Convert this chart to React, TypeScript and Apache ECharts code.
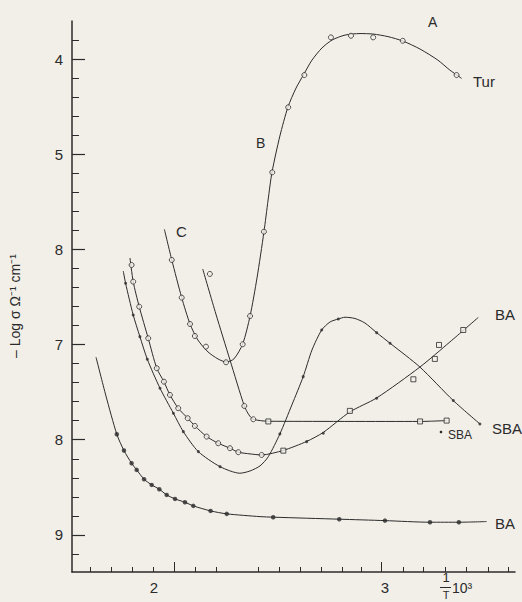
import React, { useEffect, useRef } from "react";
import * as echarts from "echarts";

// ---- axis ticks & labels ----
const yMajor = [4, 5, 6, 7, 8, 9];
const yTickLabels = ["4", "5", "8", "7", "8", "9"];
const yMinor = [3.8, 4.2, 4.4, 4.6, 4.8, 5.2, 5.4, 5.6, 5.8, 6.2, 6.4, 6.6, 6.8, 7.2, 7.4, 7.6, 7.8, 8.2, 8.4, 8.6, 8.8, 9.2];
const xLabelValues = [2, 3];
const xMinor = [1.726, 1.817, 1.908, 1.997, 2.177, 2.271, 2.45, 2.541, 2.632, 2.723, 2.813, 2.899, 3.078, 3.165, 3.26, 3.354, 3.446, 3.532];
const xMajorTicks = [2.087, 2.986];

// ---- Tur curve (C -> B -> A) ----
const turLine = [[2.045,5.789],[2.077,6.111],[2.120,6.507],[2.156,6.784],[2.190,6.952],[2.234,7.078],[2.277,7.151],[2.312,7.183],[2.346,7.151],[2.384,6.994],[2.416,6.700],[2.446,6.300],[2.476,5.817],[2.494,5.481],[2.511,5.187],[2.545,4.809],[2.580,4.504],[2.615,4.305],[2.649,4.158],[2.684,4.011],[2.727,3.884],[2.771,3.800],[2.827,3.748],[2.892,3.732],[2.948,3.737],[3.013,3.764],[3.078,3.811],[3.152,3.895],[3.229,4.011],[3.281,4.116],[3.332,4.203]];
const turPts = [[2.077,6.111],[2.120,6.507],[2.156,6.784],[2.177,6.910],[2.225,7.022],[2.312,7.186],[2.384,6.997],[2.416,6.700],[2.476,5.814],[2.512,5.190],[2.581,4.507],[2.651,4.168],[2.766,3.772],[2.853,3.755],[2.949,3.772],[3.077,3.808],[3.310,4.168]];

// ---- BA (upper) curve ----
const baUpLine = [[1.896,6.090],[1.910,6.339],[1.936,6.602],[1.975,6.934],[2.012,7.249],[2.043,7.390],[2.069,7.529],[2.105,7.669],[2.146,7.774],[2.177,7.855],[2.228,7.967],[2.278,8.037],[2.329,8.089],[2.365,8.131],[2.416,8.149],[2.466,8.160],[2.560,8.112],[2.661,8.018],[2.733,7.923],[2.848,7.708],[2.964,7.561],[3.152,7.235],[3.281,6.973],[3.404,6.715]];
const baUpCircles = [[1.903,6.164],[1.910,6.339],[1.936,6.602],[1.975,6.934],[2.012,7.249],[2.043,7.390],[2.069,7.529],[2.105,7.669],[2.146,7.774],[2.177,7.855],[2.228,7.967],[2.278,8.037],[2.329,8.089],[2.365,8.131],[2.466,8.160]];
const baUpSquares = [[2.560,8.115],[2.848,7.697],[3.123,7.365],[3.216,7.151],[3.234,7.004],[3.339,6.847]];
const baUpDots = [[2.661,8.020],[2.733,7.932],[2.964,7.564]];

// ---- SBA (peaked) curve ----
const sbaPeakLine = [[1.867,6.227],[1.877,6.356],[1.910,6.689],[1.939,6.917],[1.971,7.154],[2.026,7.459],[2.084,7.722],[2.127,7.915],[2.192,8.125],[2.286,8.283],[2.372,8.352],[2.416,8.328],[2.459,8.275],[2.495,8.178],[2.545,7.939],[2.597,7.634],[2.646,7.337],[2.684,7.057],[2.726,6.847],[2.762,6.763],[2.798,6.731],[2.827,6.713],[2.870,6.726],[2.913,6.773],[2.964,6.875],[3.022,6.986],[3.152,7.238],[3.296,7.589],[3.411,7.834]];
const sbaPeakPts = [[1.877,6.356],[1.910,6.689],[1.939,6.917],[1.971,7.154],[2.026,7.459],[2.084,7.722],[2.127,7.915],[2.192,8.125],[2.286,8.283],[2.545,7.939],[2.646,7.337],[2.726,6.847],[2.798,6.731],[2.964,6.875],[3.022,6.986],[3.296,7.589],[3.411,7.834]];

// ---- SBA (flat) curve ----
const sbaFlatLine = [[2.211,6.206],[2.268,6.679],[2.329,7.162],[2.391,7.645],[2.411,7.739],[2.430,7.785],[2.495,7.806],[3.152,7.808],[3.267,7.799]];
const sbaFlatCircles = [[2.242,6.258],[2.391,7.645],[2.430,7.785]];
const sbaFlatSquares = [[2.495,7.808],[3.152,7.808],[3.267,7.799]];

// ---- BA (lower) curve ----
const baLowLine = [[1.749,7.133],[1.792,7.540],[1.839,7.942],[1.870,8.114],[1.903,8.247],[1.925,8.317],[1.957,8.415],[1.990,8.475],[2.023,8.520],[2.055,8.580],[2.091,8.622],[2.134,8.657],[2.170,8.695],[2.245,8.748],[2.315,8.779],[2.459,8.808],[2.516,8.814],[2.802,8.835],[3.000,8.850],[3.195,8.867],[3.320,8.867],[3.440,8.860]];
const baLowPts = [[1.839,7.942],[1.870,8.114],[1.903,8.247],[1.925,8.317],[1.957,8.415],[1.990,8.475],[2.023,8.520],[2.055,8.580],[2.091,8.622],[2.134,8.657],[2.170,8.695],[2.245,8.748],[2.315,8.779],[2.516,8.814],[2.802,8.835],[3.000,8.850],[3.195,8.867],[3.320,8.867]];

const BG = "#f2efe9";
const INK = "#2b2b2b";
const FONT = "'Liberation Sans', Arial, sans-serif";

function lineSeries(data: number[][]) {
  return {
    type: "line",
    data,
    smooth: 0.25,
    showSymbol: false,
    symbol: "none",
    lineStyle: { color: INK, width: 1 },
    xAxisIndex: 0,
    yAxisIndex: 0,
    z: 2,
    silent: true,
  };
}

function scatterSeries(data: number[][], symbol: string, size: number, filled: boolean) {
  return {
    type: "scatter",
    data,
    symbol,
    symbolSize: size,
    itemStyle: filled
      ? { color: INK }
      : { color: BG, borderColor: INK, borderWidth: 1 },
    xAxisIndex: 0,
    yAxisIndex: 0,
    z: 3,
    silent: true,
  };
}

function label(text: string, x: number, y: number, size: number) {
  return {
    type: "text",
    x,
    y,
    style: { text, fill: INK, font: `${size}px ${FONT}`, align: "left", verticalAlign: "middle" },
  };
}

export default function App() {
  const ref = useRef<HTMLDivElement>(null);
  useEffect(() => {
    if (!ref.current) return;
    const chart = echarts.init(ref.current, null, { renderer: "svg" });
    const option: any = {
      animation: false,
      backgroundColor: BG,
      grid: { left: 72, right: 7, top: 21, bottom: 30, containLabel: false, outerBoundsMode: "none" },
      xAxis: [
        {
          type: "value",
          min: 1.645,
          max: 3.563,
          axisLine: { show: true, lineStyle: { color: INK, width: 1.5 } },
          axisTick: { show: true, inside: true, length: 5, customValues: xMinor, lineStyle: { color: INK, width: 1 } },
          axisLabel: { show: true, customValues: xLabelValues, formatter: (v: number) => String(v), color: INK, fontSize: 15, fontFamily: FONT, margin: 8 },
          splitLine: { show: false },
        },
        {
          type: "value",
          min: 1.645,
          max: 3.563,
          position: "bottom",
          axisLine: { show: false },
          axisTick: { show: true, inside: true, length: 10, customValues: xMajorTicks, lineStyle: { color: INK, width: 1 } },
          axisLabel: { show: false },
          splitLine: { show: false },
        },
      ],
      yAxis: [
        {
          type: "value",
          inverse: true,
          min: 3.6,
          max: 9.39,
          position: "left",
          axisLine: { show: true, lineStyle: { color: INK, width: 1.5 } },
          axisTick: { show: true, inside: true, length: 13, customValues: yMajor, lineStyle: { color: INK, width: 1.2 } },
          axisLabel: {
            show: true,
            customValues: yMajor,
            formatter: (v: number) => {
              const i = yMajor.indexOf(Math.round(v));
              return i >= 0 ? yTickLabels[i] : "";
            },
            color: INK,
            fontSize: 15,
            fontFamily: FONT,
            margin: 9,
          },
          splitLine: { show: false },
        },
        {
          type: "value",
          inverse: true,
          min: 3.6,
          max: 9.39,
          position: "left",
          axisLine: { show: false },
          axisTick: { show: true, inside: true, length: 7, customValues: yMinor, lineStyle: { color: INK, width: 1 } },
          axisLabel: { show: false },
          splitLine: { show: false },
        },
      ],
      series: [
        lineSeries(turLine),
        scatterSeries(turPts, "circle", 5, false),
        lineSeries(baUpLine),
        scatterSeries(baUpCircles, "circle", 5, false),
        scatterSeries(baUpSquares, "rect", 5, false),
        scatterSeries(baUpDots, "circle", 3, true),
        lineSeries(sbaPeakLine),
        scatterSeries(sbaPeakPts, "circle", 3, true),
        lineSeries(sbaFlatLine),
        scatterSeries(sbaFlatCircles, "circle", 5, false),
        scatterSeries(sbaFlatSquares, "rect", 5, false),
        lineSeries(baLowLine),
        scatterSeries(baLowPts, "circle", 4.5, true),
      ],
      graphic: [
        label("A", 428, 22, 14),
        label("Tur", 473, 81, 15),
        label("B", 256, 143, 14),
        label("C", 176, 231, 15),
        label("BA", 495, 314, 15),
        label("SBA", 492, 428, 15),
        label("SBA", 448, 435, 12),
        { type: "circle", shape: { cx: 441, cy: 432, r: 1.3 }, style: { fill: INK } },
        label("BA", 495, 523, 15),
        {
          type: "text",
          x: 15,
          y: 306,
          rotation: Math.PI / 2,
          style: { text: "– Log σ Ω⁻¹ cm⁻¹", fill: INK, font: `14px ${FONT}`, align: "center", verticalAlign: "middle" },
        },
        {
          type: "text",
          x: 446,
          y: 577,
          style: { text: "1", fill: INK, font: `13px ${FONT}`, align: "center", verticalAlign: "middle" },
        },
        { type: "line", shape: { x1: 440, y1: 587.5, x2: 451, y2: 587.5 }, style: { stroke: INK, lineWidth: 1 } },
        {
          type: "text",
          x: 452,
          y: 588,
          style: { text: "10³", fill: INK, font: `14px ${FONT}`, align: "left", verticalAlign: "middle" },
        },
        {
          type: "text",
          x: 446,
          y: 595,
          style: { text: "T", fill: INK, font: `11px ${FONT}`, align: "center", verticalAlign: "middle" },
        },
      ],
    };
    chart.setOption(option);
    return () => chart.dispose();
  }, []);
  return (
    <div
      ref={ref}
      style={{ position: "absolute", left: 0, top: 0, width: 522, height: 602 }}
    />
  );
}
